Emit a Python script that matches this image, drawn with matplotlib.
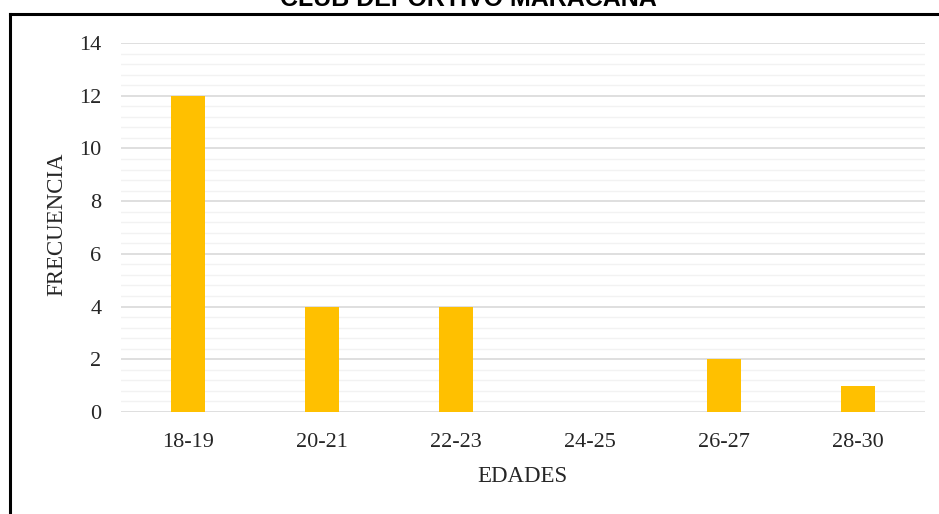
import matplotlib
matplotlib.use('Agg')
import matplotlib.pyplot as plt
from matplotlib.lines import Line2D
import numpy as np

edades = ['18-19', '20-21', '22-23', '24-25', '26-27', '28-30']
frecuencia = [12, 4, 4, 0, 2, 1]

W, H = 939, 514
fig = plt.figure(figsize=(W/100, H/100), dpi=100)
ax = fig.add_axes([121/W, 1-412/H, (925-121)/W, (412-43)/H])

x = np.arange(len(edades))
ax.bar(x, frecuencia, width=0.25, color='#FFC000', zorder=3)

ax.set_xlim(-0.5, len(edades)-0.5)
ax.set_ylim(0, 14)
ax.set_yticks(np.arange(0, 15, 2))
ax.set_yticks(np.arange(0, 14.01, 0.4), minor=True)
ax.set_xticks(x)
ax.set_xticklabels(edades)
ax.grid(which='major', axis='y', color='#d9d9d9', linewidth=1.2, zorder=0)
ax.grid(which='minor', axis='y', color='#f2f2f2', linewidth=1.0, zorder=0)
for s in ax.spines.values():
    s.set_visible(False)
ax.tick_params(which='both', length=0)
ax.tick_params(axis='y', pad=14)
ax.tick_params(axis='x', pad=15)
for lab in ax.get_xticklabels() + ax.get_yticklabels():
    lab.set_fontfamily('Liberation Serif')
    lab.set_fontsize(16)
    lab.set_color('#262626')

fig.text(57/W, 1-224/H, 'FRECUENCIA', rotation=90, ha='center', va='center',
         family='Liberation Serif', fontsize=16.5, color='#262626')
fig.text(522/W, 1-476/H, 'EDADES', ha='center', va='center',
         family='Liberation Serif', fontsize=16.5, color='#262626')

# title cut off at the top
fig.text(468/W, 1-6/H, 'CLUB DEPORTIVO MARACANÁ', ha='center', va='baseline',
         family='Liberation Sans', fontweight='bold', fontsize=18, color='black')

# frame of the chart area
fig.add_artist(Line2D([10/W, 10/W], [0, 1-14/H], color='black', linewidth=2.2,
                      transform=fig.transFigure))
fig.add_artist(Line2D([10/W, 1], [1-14/H, 1-14/H], color='black', linewidth=2.2,
                      transform=fig.transFigure))

fig.savefig('out.png', dpi=100)
